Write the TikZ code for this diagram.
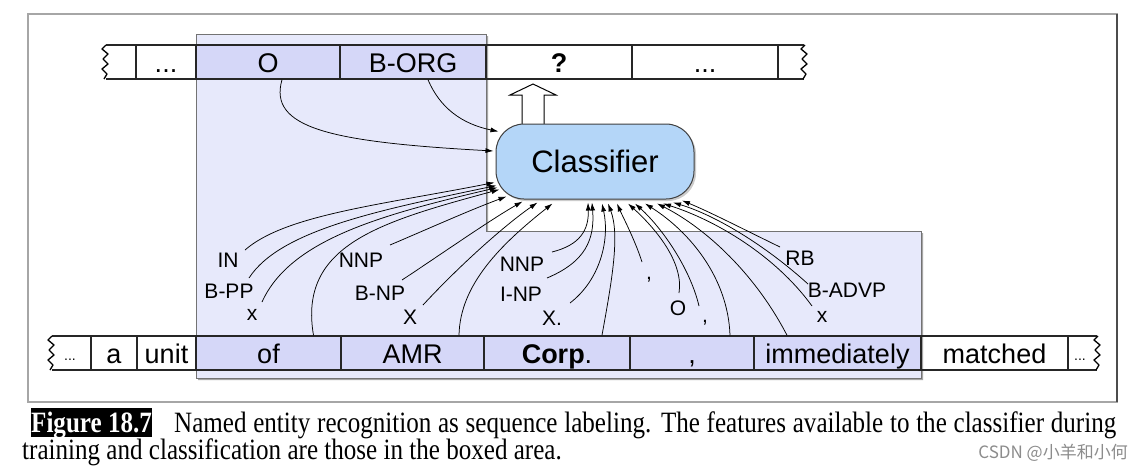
\documentclass[tikz,border=0pt]{standalone}
\usepackage{fontspec}
\setmainfont{Liberation Serif}
\setsansfont{Liberation Sans}
\newfontfamily\capfont[FakeStretch=0.85]{Liberation Serif}
\newfontfamily\cjkfont{Noto Sans CJK SC}
\usetikzlibrary{arrows.meta,calc}
\definecolor{regionfill}{HTML}{E7E9FB}
\definecolor{cellfill}{HTML}{D5D7F8}
\definecolor{clsfill}{HTML}{B4D6F8}
\begin{document}
\begin{tikzpicture}[x=1pt,y=-1pt,
  rowline/.style={draw=black!85,line width=1.5pt},
  cell/.style={rowline, minimum height=34pt, inner sep=0pt, text height=20pt, text depth=0pt, font=\sffamily\fontsize{27}{27}\selectfont},
  lav/.style={fill=cellfill},
  feat/.style={font=\sffamily\fontsize{21}{21}\selectfont, inner sep=0.5pt},
  conn/.style={line width=0.75pt, -{Latex[length=8pt,width=5pt]}},
  dots/.style={font=\sffamily\fontsize{14}{14}\selectfont, inner sep=0pt, anchor=base},
  jag/.pic={\draw[line width=1.3pt, line join=round] (0,0) -- (-4,4) -- (2,9) -- (-3,14) -- (2,19) -- (-4,24) -- (1,29) -- (-2,34);}
]
\fill[white] (0,0) rectangle (1144,472);
\useasboundingbox (0,0) rectangle (1144,472);
% outer frame
\draw[gray!70, line width=1.2pt] (28,14) rectangle (1117,402);
\draw[black!70, line width=1.2pt] (1117,14) -- (1117,402);
% boxed area
\fill[black!35, shift={(2,2)}] (196,34) -- (486,34) -- (486,231) -- (921,231) -- (921,378) -- (196,378) -- cycle;
\filldraw[fill=regionfill, draw=black!55, line width=1pt] (196,34) -- (486,34) -- (486,231) -- (921,231) -- (921,378) -- (196,378) -- cycle;
% top row
\draw[rowline] (106,45) -- (136,45) (106,79) -- (136,79);
\draw[rowline] (778,45) -- (804,45) (778,79) -- (804,79);
\pic at (106,45) {jag};
\pic at (805,45) {jag};
\node[cell, minimum width=60pt] (t1) at (166,62) {...};
\node[cell, lav, minimum width=144pt] (t2) at (268,62) {O};
\node[cell, lav, minimum width=146pt] (t3) at (413,62) {B-ORG};
\node[cell, minimum width=146pt, font=\sffamily\bfseries\fontsize{27}{27}\selectfont] (t4) at (559,62) {?};
\node[cell, minimum width=146pt] (t5) at (705,62) {...};
% bottom row
\draw[rowline] (52,336) -- (91,336) (52,370) -- (91,370);
\draw[rowline] (1068,336) -- (1097,336) (1068,370) -- (1097,370);
\pic at (52,336) {jag};
\pic at (1098,336) {jag};
\node[dots] (bl) at (70,360) {...};
\node[dots] (br) at (1080,360) {...};
\node[cell, minimum width=46pt] (b1) at (114,353) {a};
\node[cell, minimum width=59pt] (b2) at (166.5,353) {unit};
\node[cell, lav, minimum width=145pt] (b3) at (268.5,353) {of};
\node[cell, lav, minimum width=143pt] (b4) at (412.5,353) {AMR};
\node[cell, lav, minimum width=146pt] (b5) at (557,353) {\textbf{Corp}.};
\node[cell, lav, minimum width=124pt] (b6) at (692,353) {,};
\node[cell, lav, minimum width=167pt] (b7) at (837.5,353) {immediately};
\node[cell, minimum width=147pt] (b8) at (994.5,353) {matched};
% output arrow
\draw[fill=white, line width=1pt] (522,126) -- (522,95) -- (510,95) -- (533,84) -- (556,95) -- (544,95) -- (544,126);
% classifier
\fill[black!20, rounded corners=28pt] (498,126) rectangle (696,201);
\node[draw=black!75, line width=1pt, fill=clsfill, rounded corners=28pt, minimum width=198pt, minimum height=75pt, inner sep=0pt, font=\sffamily\fontsize{31}{31}\selectfont] (clf) at (595,161.5) {Classifier};
% feature labels
\node[feat] (lIN) at (228,260) {IN};
\node[feat] (lBPP) at (229,291) {B-PP};
\node[feat] (lx1) at (252,315) {x};
\node[feat] (lNNP1) at (361,260) {NNP};
\node[feat] (lBNP) at (380,293) {B-NP};
\node[feat] (lX2) at (410,317) {X};
\node[feat] (lNNP2) at (522,264) {NNP};
\node[feat] (lINP) at (521,294) {I-NP};
\node[feat] (lX3) at (552,318) {X.};
\node[feat] (lc1) at (649,280) {,};
\node[feat] (lO) at (678,308) {O};
\node[feat] (lc2) at (705,323) {,};
\node[feat] (lRB) at (800,258) {RB};
\node[feat] (lBADVP) at (847,290) {B-ADVP};
\node[feat] (lx4) at (822,317) {x};
% connectors from previous tags
\draw[conn] ($(t2.south)+(14,0)$) .. controls (268,128) and (330,142) .. ($(clf.west)+(-2,-10.5)$);
\draw[conn] ($(t3.south)+(15,0)$) .. controls (440,108) and (462,124) .. ($(clf.north west)+(3,8)$);
% connectors left group
\draw[conn] ($(lIN)+(17,-10)$) .. controls (285,215) and (380,205) .. ($(clf.south west)+(-1,-17)$);
\draw[conn] ($(lBPP)+(20,-13)$) .. controls (280,230) and (380,210) .. ($(clf.south west)+(1,-14)$);
\draw[conn] ($(lx1)+(10,-13)$) .. controls (290,240) and (380,215) .. ($(clf.south west)+(2,-12)$);
\draw[conn] ($(b3.north)+(45,0)$) .. controls (298,245) and (380,222) .. ($(clf.south west)+(4,-10)$);
\draw[conn] ($(lNNP1)+(29,-15)$) .. controls (430,228) and (470,210) .. ($(clf.south west)+(11,-3)$);
\draw[conn] ($(lBNP)+(22,-13)$) .. controls (440,255) and (490,220) .. ($(clf.south west)+(27,2)$);
\draw[conn] ($(lX2)+(13,-12)$) .. controls (460,265) and (505,225) .. ($(clf.south west)+(42,3)$);
\draw[conn] ($(b4.north)+(46.5,0)$) .. controls (460,285) and (500,245) .. ($(clf.south west)+(57,4)$);
% connectors right group
\draw[conn] ($(lNNP2)+(30,-12)$) .. controls (580,245) and (589,230) .. ($(clf.south)+(-7,3)$);
\draw[conn] ($(lINP)+(26,-16)$) .. controls (585,262) and (595,240) .. ($(clf.south)+(-3,3)$);
\draw[conn] ($(lX3)+(18,-15)$) .. controls (600,280) and (610,240) .. ($(clf.south)+(7,4)$);
\draw[conn] ($(b5.north)+(45,0)$) .. controls (612,280) and (620,235) .. ($(clf.south)+(13,4)$);
\draw[conn] ($(lc1)+(-7,-18)$) .. controls (635,240) and (622,215) .. ($(clf.south)+(22,4)$);
\draw[conn] ($(lO)+(1,-15)$) .. controls (684,262) and (655,228) .. ($(clf.south)+(33,4)$);
\draw[conn] ($(lc2)+(-6,-17)$) .. controls (690,268) and (662,228) .. ($(clf.south)+(40,4)$);
\draw[conn] ($(b6.north)+(38,0)$) .. controls (728,278) and (690,232) .. ($(clf.south)+(50,4)$);
\draw[conn] ($(b7.north)+(-50.5,0)$) .. controls (752,268) and (700,225) .. ($(clf.south)+(62,4)$);
\draw[conn] ($(lx4)+(-10,-11)$) .. controls (775,255) and (715,220) .. ($(clf.south)+(68,4)$);
\draw[conn] ($(lBADVP)+(-39,-6)$) .. controls (765,245) and (715,215) .. ($(clf.south)+(78,3)$);
\draw[conn] ($(lRB)+(-20,-11)$) .. controls (745,230) and (710,212) .. ($(clf.south)+(87,1)$);
% caption
\node[fill=black, text=white, anchor=base west, inner xsep=0.5pt, inner ysep=0pt, text height=24.3pt, text depth=4.4pt, font=\capfont\bfseries\fontsize{29.5}{29.5}\selectfont] (fig) at (30.5,432.3) {Figure 18.7};
\node[anchor=base west, inner sep=0pt, font=\capfont\fontsize{29.5}{29.5}\selectfont] (cap1) at (174,432.3) {\makebox[942pt][s]{Named entity recognition as sequence labeling. The features available to the classifier during}};
\node[anchor=base west, inner sep=0pt, font=\capfont\fontsize{29.5}{29.5}\selectfont] (cap2) at (22,459.3) {training and classification are those in the boxed area.};
\node[anchor=east, inner sep=0pt, text=black!45, font=\cjkfont\fontsize{17}{17}\selectfont] (wm) at (1128,453) {CSDN @小羊和小何};
\end{tikzpicture}
\end{document}
